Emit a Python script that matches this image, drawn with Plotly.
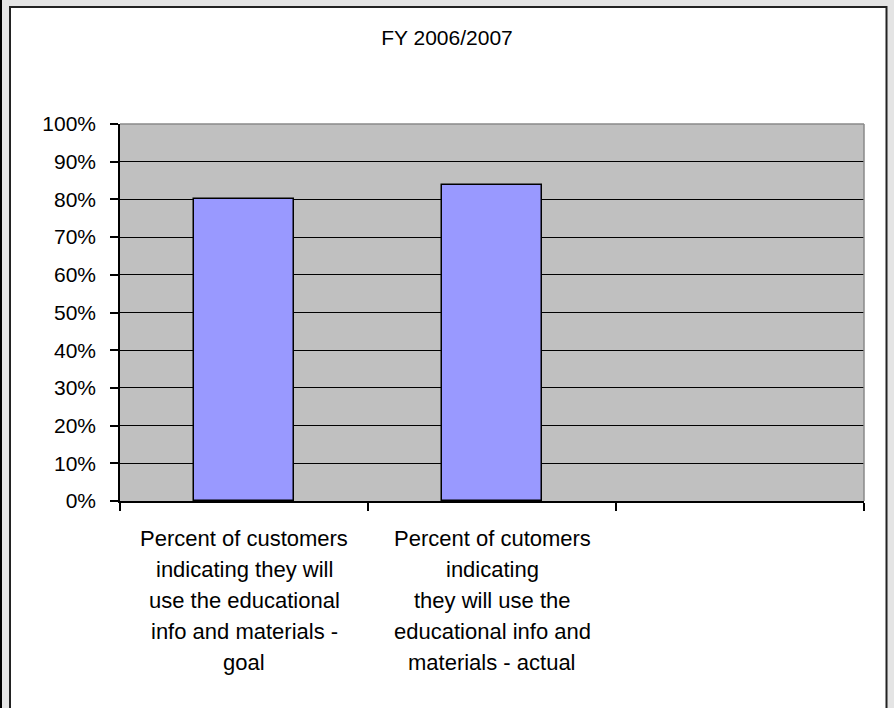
import plotly.graph_objects as go

# ---- data ----
title_text = "FY 2006/2007"
categories = [
    "Percent of customers<br>indicating they will<br>use the educational<br>info and materials -<br>goal",
    "Percent of cutomers<br>indicating<br>they will use the<br>educational info and<br>materials - actual",
    "",
]
values = [0.80, 0.837]
y_tick_values = [0, 0.1, 0.2, 0.3, 0.4, 0.5, 0.6, 0.7, 0.8, 0.9, 1.0]
y_tick_labels = ["0%", "10%", "20%", "30%", "40%", "50%", "60%", "70%", "80%", "90%", "100%"]

# ---- layout geometry ----
W, H = 894, 708
L, R, T, B = 120, 30, 124, 207
PW = W - L - R
PH = H - T - B
FONT = "Liberation Sans, Arial, sans-serif"


def px(x):
    return (x - L) / PW


def py(y):
    return (H - B - y) / PH


x_pos = list(range(len(categories)))

fig = go.Figure()
fig.add_trace(go.Bar(
    x=x_pos[:len(values)],
    y=values,
    width=0.407,
    marker=dict(color="#9999ff", line=dict(color="#000000", width=1.5)),
    hoverinfo="y",
))

shapes = []
# plot-area border (top & right edges gray)
shapes.append(dict(type="line", xref="paper", yref="paper", x0=0, x1=1, y0=1, y1=1,
                   line=dict(color="#8a8a8a", width=1.5), layer="above"))
shapes.append(dict(type="line", xref="paper", yref="paper", x0=1, x1=1, y0=0, y1=1,
                   line=dict(color="#8a8a8a", width=1.5), layer="above"))
# outer gray frame strips (in the margins)
gray = "#e4e4e4"
shapes.append(dict(type="rect", xref="paper", yref="paper", x0=px(0), x1=px(9), y0=py(730), y1=py(-5),
                   fillcolor=gray, line=dict(width=0), layer="above"))
shapes.append(dict(type="rect", xref="paper", yref="paper", x0=px(-5), x1=px(900), y0=py(6), y1=py(-5),
                   fillcolor=gray, line=dict(width=0), layer="above"))
shapes.append(dict(type="rect", xref="paper", yref="paper", x0=px(887), x1=px(900), y0=py(730), y1=py(-5),
                   fillcolor=gray, line=dict(width=0), layer="above"))
shapes.append(dict(type="rect", xref="paper", yref="paper", x0=px(-5), x1=px(2), y0=py(730), y1=py(-5),
                   fillcolor="#000000", line=dict(width=0), layer="above"))
# card border
shapes.append(dict(type="rect", xref="paper", yref="paper", x0=px(10), x1=px(886.5), y0=py(740), y1=py(7),
                   fillcolor="rgba(0,0,0,0)", line=dict(color="#222222", width=2), layer="above"))

annotations = []
line_offsets = [37, 68, 99, 130, 161]
for i, cat in enumerate(categories):
    if not cat:
        continue
    for j, line in enumerate(cat.split("<br>")):
        annotations.append(dict(
            x=x_pos[i], y=0, xref="x", yref="paper",
            text=line, showarrow=False,
            xanchor="center", yanchor="middle",
            yshift=-line_offsets[j],
            font=dict(family=FONT, size=22, color="#000000"),
        ))

fig.update_layout(
    width=W, height=H,
    margin=dict(l=L, r=R, t=T, b=B, pad=0),
    paper_bgcolor="#ffffff",
    plot_bgcolor="#c0c0c0",
    showlegend=False,
    title=dict(text=title_text, x=0.5, xref="container", xanchor="center",
               y=1 - 38 / H, yref="container", yanchor="middle",
               font=dict(family=FONT, size=21, color="#000000")),
    font=dict(family=FONT, size=21, color="#000000"),
    xaxis=dict(
        range=[-0.5, len(categories) - 0.5],
        tickvals=[i - 0.5 for i in range(len(categories) + 1)],
        showticklabels=False,
        ticks="outside", ticklen=8, tickcolor="#000000", tickwidth=1.5,
        showgrid=False, zeroline=False,
        showline=True, linecolor="#000000", linewidth=1.5,
        fixedrange=True,
    ),
    yaxis=dict(
        range=[0, 1],
        tickvals=y_tick_values,
        ticktext=y_tick_labels,
        ticks="outside", ticklen=8, tickcolor="#000000", tickwidth=1.5,
        ticklabelstandoff=10,
        showgrid=True, gridcolor="#000000", gridwidth=1,
        zeroline=False,
        showline=True, linecolor="#000000", linewidth=1.5,
        tickfont=dict(family=FONT, size=21, color="#000000"),
        fixedrange=True,
    ),
    shapes=shapes,
    annotations=annotations,
    bargap=0,
)

fig.write_html(
    "out.html",
    config={"displayModeBar": False},
    post_script="document.body.style.margin='0';document.body.style.padding='0';",
)
